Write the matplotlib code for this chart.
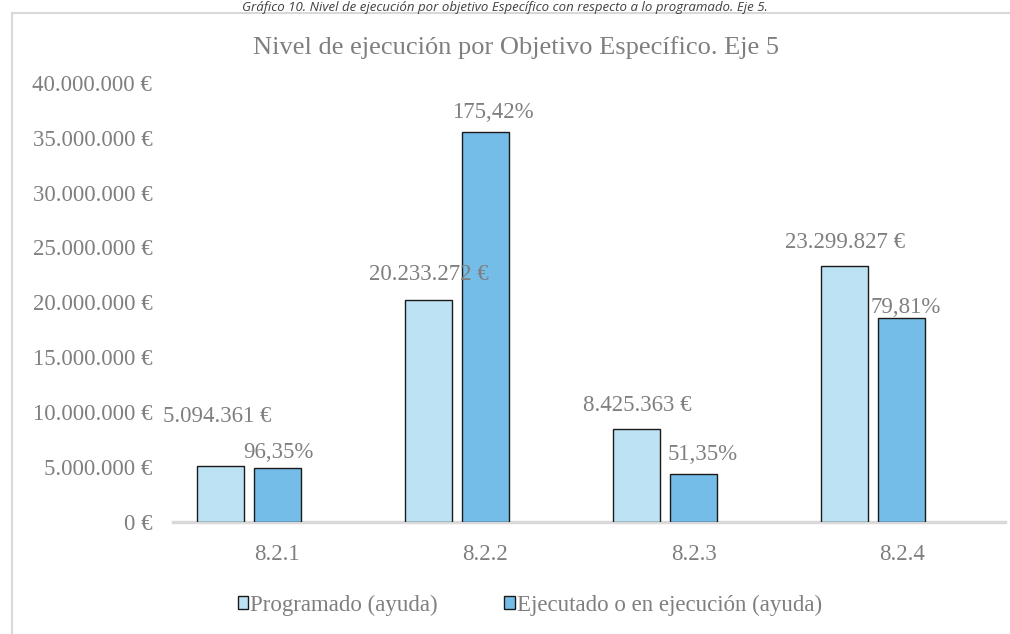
import matplotlib
matplotlib.use('Agg')
import matplotlib.pyplot as plt
import matplotlib.transforms as mtransforms
from matplotlib.patches import Rectangle
import numpy as np

categories = ['8.2.1', '8.2.2', '8.2.3', '8.2.4']
programado = [5094361, 20233272, 8425363, 23299827]
ejecutado = [4908417, 35493207, 4326424, 18595692]
prog_labels = ['5.094.361 €', '20.233.272 €', '8.425.363 €', '23.299.827 €']
pct_labels = ['96,35%', '175,42%', '51,35%', '79,81%']
yticks = [0, 5000000, 10000000, 15000000, 20000000, 25000000, 30000000, 35000000, 40000000]
series_names = ['Programado (ayuda)', 'Ejecutado o en ejecución (ayuda)']

# label offsets in pixels (dx, dy) from the top centre of each bar
prog_off = [(-3, 49), (0, 25), (1, 24), (0, 24)]
ejec_off = [(1, 15), (7, 20), (9, 20), (4, 10)]

GRAY = '#7f7f7f'
C_PROG = '#bde2f4'
C_EJEC = '#74bde8'
FS = 16.5

plt.rcParams['font.family'] = ['Liberation Serif', 'DejaVu Serif']

fig = plt.figure(figsize=(10.10, 6.34), dpi=100)
W, H = 1010, 634

# outer chart border (extends past the right/bottom edge)
fig.patches.append(Rectangle((12 / W, -0.1), 1.2, 1 - 13 / H + 0.1,
                             transform=fig.transFigure, fill=False,
                             edgecolor='#d9d9d9', linewidth=1.5))

# caption above the chart
fig.text(505 / W, 1 - 1 / H,
         'Gráfico 10. Nivel de ejecución por objetivo Específico con respecto a lo programado. Eje 5.',
         ha='center', va='top', fontsize=9.5, style='italic',
         family=['Open Sans', 'DejaVu Sans'], color='#404040')

ax = fig.add_axes([144.5 / W, 1 - 521.5 / H, 833 / W, 438.5 / H])
x = np.arange(len(categories))
bw = 0.225
off = 0.137
b1 = ax.bar(x - off, programado, bw, color=C_PROG, edgecolor='#1a1a1a', linewidth=1, label=series_names[0])
b2 = ax.bar(x + off, ejecutado, bw, color=C_EJEC, edgecolor='#1a1a1a', linewidth=1, label=series_names[1])

ax.set_xlim(-0.5, 3.5)
ax.set_ylim(0, 40000000)
for s in ax.spines.values():
    s.set_visible(False)

# category axis line (drawn shifted as in the original export)
ax.plot([(173 - 144.5) / 833, (1005 - 144.5) / 833], [0, 0], transform=ax.transAxes,
        color='#d9d9d9', linewidth=2.5, clip_on=False, zorder=0)

ax.set_xticks(x)
ax.set_xticklabels(categories)
ax.set_yticks(yticks)
ax.set_yticklabels(['{:,.0f} €'.format(v).replace(',', '.') for v in yticks])
ax.tick_params(length=0, labelsize=FS, labelcolor=GRAY)
ax.tick_params(axis='x', pad=16)
ax.tick_params(axis='y', pad=15)
shift = mtransforms.ScaledTranslation(28.5 / 100, 0, fig.dpi_scale_trans)
for lab in ax.get_xticklabels():
    lab.set_transform(lab.get_transform() + shift)
for lab in ax.get_yticklabels():
    lab.set_transform(lab.get_transform() + shift)

for i in range(len(categories)):
    ax.annotate(prog_labels[i], (x[i] - off, programado[i]),
                xytext=(prog_off[i][0] * 0.72, prog_off[i][1] * 0.72), textcoords='offset points',
                ha='center', va='center', fontsize=FS, color=GRAY)
    ax.annotate(pct_labels[i], (x[i] + off, ejecutado[i]),
                xytext=(ejec_off[i][0] * 0.72, ejec_off[i][1] * 0.72), textcoords='offset points',
                ha='center', va='center', fontsize=FS, color=GRAY)

fig.text(516 / W, 1 - 48 / H, 'Nivel de ejecución por Objetivo Específico. Eje 5',
         ha='center', va='center', fontsize=19, color=GRAY)

leg = fig.legend(handles=[b1, b2], loc='center', bbox_to_anchor=(530 / W, 1 - 605 / H),
                 ncol=2, frameon=False, fontsize=FS, labelcolor=GRAY,
                 handlelength=0.45, handleheight=0.45, handletextpad=0.1, columnspacing=2.9)

fig.savefig('out.png', dpi=100)
